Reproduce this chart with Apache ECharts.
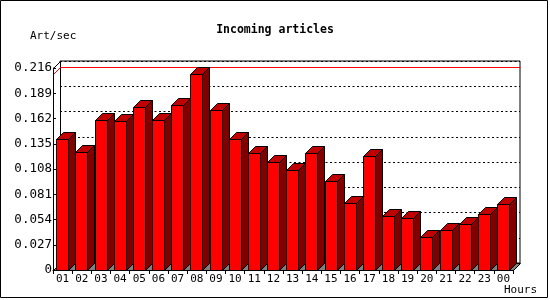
<!DOCTYPE html>
<html>
<head>
<meta charset="utf-8">
<script src="https://cdn.jsdelivr.net/npm/echarts@6/dist/echarts.min.js"></script>
<style>
html,body{margin:0;padding:0;background:#fff;}
#chart{width:550px;height:300px;}
</style>
</head>
<body>
<div id="chart"></div>
<script>
const categories = ['01','02','03','04','05','06','07','08','09','10','11','12','13','14','15','16','17','18','19','20','21','22','23','00'];
const values = [0.1398,0.1267,0.1608,0.1597,0.1747,0.1608,0.1768,0.2099,0.1715,0.1405,0.1256,0.1160,0.1074,0.1256,0.0957,0.0712,0.1217,0.0573,0.0551,0.0356,0.0427,0.0487,0.0594,0.0701];
const yTickLabels = ['0','0.027','0.054','0.081','0.108','0.135','0.162','0.189','0.216'];
const yStep = 0.027;
const yMax = 0.216;
const titleText = 'Incoming articles';
const yUnit = 'Art/sec';
const xUnit = 'Hours';

const DEPTH = 7;
const MONO = "'DejaVu Sans Mono', 'Liberation Mono', monospace";
const chart = echarts.init(document.getElementById('chart'), null, {renderer: 'canvas'});
const maxVal = Math.max.apply(null, values);

function px(v){ return Math.round(v) + 0.5; }

const option = {
  animation: false,
  backgroundColor: '#fff',
  title: {
    text: titleText, left: 'center', top: 19,
    textStyle: {fontFamily: MONO, fontSize: 11.5, fontWeight: 'bold', color: '#000'}
  },
  grid: [
    {left: 53, top: 68, width: 460, height: 202, show: false},
    {left: 60, top: 61, width: 460, height: 202, show: true, borderColor: '#000', borderWidth: 1, backgroundColor: '#fff', z: 0}
  ],
  xAxis: [
    {
      type: 'category', gridIndex: 0, data: categories,
      axisLine: {show: true, lineStyle: {color: '#000', width: 1}},
      axisTick: {show: true, length: 4, lineStyle: {color: '#000'}},
      axisLabel: {fontFamily: MONO, fontSize: 11, color: '#000', margin: 4},
      splitLine: {show: false}, z: 10
    },
    {type: 'value', gridIndex: 1, min: 0, max: 1, show: false}
  ],
  yAxis: [
    {
      type: 'value', gridIndex: 0, min: 0, max: yMax, interval: yStep,
      axisLine: {show: true, lineStyle: {color: '#000', width: 1}},
      axisTick: {show: true, inside: true, length: 3, lineStyle: {color: '#000'}},
      axisLabel: {fontFamily: MONO, fontSize: 12.5, color: '#000', margin: 1,
        formatter: function(v){ return yTickLabels[Math.round(v / yStep)]; }},
      splitLine: {show: false}, z: 10
    },
    {
      type: 'value', gridIndex: 1, min: 0, max: yMax, interval: yStep,
      axisLine: {show: false}, axisTick: {show: false}, axisLabel: {show: false},
      splitLine: {show: true, lineStyle: {color: '#000', type: [2, 2.5], width: 1}}
    }
  ],
  graphic: [
    {type: 'rect', shape: {x: 0.5, y: 0.5, width: 547, height: 297}, style: {fill: 'none', stroke: '#000', lineWidth: 1}, z: 100},
    {type: 'text', left: 30, top: 31, style: {text: yUnit, font: '11px ' + MONO, fill: '#000'}},
    {type: 'text', left: 504, top: 285, style: {text: xUnit, font: '11px ' + MONO, fill: '#000'}}
  ],
  series: [
    {
      type: 'custom', xAxisIndex: 0, yAxisIndex: 0, z: 1,
      data: [[0]],
      renderItem: function(params, api){
        const cs = params.coordSys;
        const x0 = px(cs.x), x1 = px(cs.x + cs.width);
        const yB = px(cs.y + cs.height), yT = px(cs.y);
        const d = DEPTH;
        const my = px(api.coord([0, maxVal])[1]);
        return {type: 'group', children: [
          {type: 'polygon', shape: {points: [[x0, yB], [x1, yB], [x1 + d, yB - d], [x0 + d, yB - d]]},
            style: {fill: '#808080', stroke: '#000', lineWidth: 1}},
          {type: 'polygon', shape: {points: [[x0, yT], [x0 + d, yT - d], [x0 + d, yB - d], [x0, yB]]},
            style: {fill: '#fff', stroke: '#000', lineWidth: 1}},
          {type: 'polyline', shape: {points: [[x0, my], [x0 + d, my - d], [x1 + d, my - d]]},
            style: {fill: 'none', stroke: '#ff0000', lineWidth: 1}}
        ]};
      }
    },
    {
      type: 'custom', xAxisIndex: 0, yAxisIndex: 0, z: 2,
      data: values.map(function(v, i){ return [i, v]; }),
      renderItem: function(params, api){
        const i = api.value(0), v = api.value(1);
        const base = api.coord([i, 0]);
        const top = api.coord([i, v]);
        const bw = api.size([1, 0])[0];
        const d = DEPTH;
        const l = px(base[0] - bw * 0.33);
        const r = l + Math.round(bw * 0.63);
        const yb = px(base[1]);
        const yt = px(top[1]);
        const st = {stroke: '#000', lineWidth: 1};
        return {type: 'group', children: [
          {type: 'polygon', shape: {points: [[r, yt], [r + d, yt - d], [r + d, yb - d], [r, yb]]},
            style: Object.assign({fill: '#800000'}, st)},
          {type: 'polygon', shape: {points: [[l, yt], [l + d, yt - d], [r + d, yt - d], [r, yt]]},
            style: Object.assign({fill: '#c00000'}, st)},
          {type: 'rect', shape: {x: l, y: yt, width: r - l, height: yb - yt},
            style: Object.assign({fill: '#ff0000'}, st)}
        ]};
      }
    }
  ]
};
chart.setOption(option);
</script>
</body>
</html>
